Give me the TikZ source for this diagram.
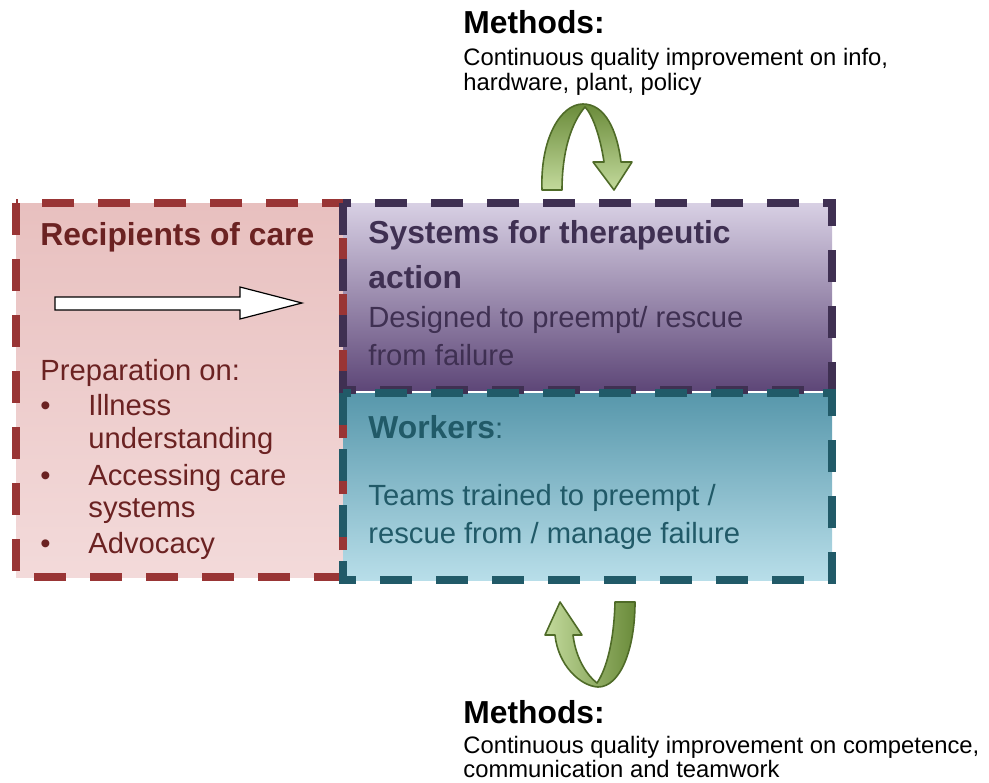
\documentclass[tikz,border=0pt]{standalone}
\usepackage{fontspec}
\setmainfont{Liberation Sans}
\usetikzlibrary{positioning}
\definecolor{recipdark}{HTML}{6B2222}
\definecolor{recipline}{HTML}{993535}
\definecolor{reciptop}{HTML}{E8C0BF}
\definecolor{recipbot}{HTML}{F3DADA}
\definecolor{sysdark}{HTML}{3F3052}
\definecolor{systop}{HTML}{D8D0E4}
\definecolor{sysbot}{HTML}{5E4778}
\definecolor{workdark}{HTML}{215A68}
\definecolor{worktop}{HTML}{5797AB}
\definecolor{workbot}{HTML}{B8DEE9}
\definecolor{loopline}{HTML}{4F6B28}
\definecolor{loopdark}{HTML}{6A8B3A}
\definecolor{looplight}{HTML}{C3DA9C}
\newcommand{\headfont}{\fontsize{15.9}{22.5}\selectfont\bfseries}
\newcommand{\bodyfont}{\fontsize{14.6}{19}\selectfont}
\newcommand{\notefont}{\fontsize{11.9}{13}\selectfont}
\tikzset{
  area/.style={rectangle, line width=3.8pt, dash pattern=on 16pt off 12pt,
               inner sep=0pt, outer sep=0pt, anchor=north west},
  txt/.style={anchor=base west, inner sep=0pt},
  loop/.style={draw=loopline, line width=0.8pt, line join=round}
}

\begin{document}
\begin{tikzpicture}[x=0.5pt, y=-0.5pt]
	\useasboundingbox (0,0) rectangle (989,782);
	% boxes
	\node[area, top color=reciptop, bottom color=recipbot,
	      minimum width=163.5pt, minimum height=187pt] (recip) at (16,203) {};
	\node[area, top color=systop, bottom color=sysbot,
	      minimum width=244.5pt, minimum height=93.5pt] (sys) at (343,203) {};
	\node[area, top color=worktop, bottom color=workbot,
	      minimum width=244.5pt, minimum height=93.5pt] (work) at (343,393) {};
	\draw[area, draw=recipline] (recip.north west) rectangle (recip.south east);
	\draw[area, draw=sysdark] (sys.north west) rectangle (sys.south east);
	\draw[area, draw=workdark] (work.north west) rectangle (work.south east);

	% recipients
	\node[txt, text=recipdark, font=\headfont] (reciphead) at (40,245) {Recipients of care};
	\draw[fill=white, line width=0.6pt] (55,297) -- (240,297) -- (240,287) -- (302,303)
	    -- (240,319) -- (240,310) -- (55,310) -- cycle;
	\begin{scope}[every node/.style={txt, text=recipdark, font=\bodyfont}]
	\node (prep) at (40,380) {Preparation on:};
	\node (b1) at (40,415) {•};
	\node (ill) at (88,415) {Illness};
	\node (und) at (88,448) {understanding};
	\node (b2) at (40,485) {•};
	\node (acc) at (88,485) {Accessing care};
	\node (syst) at (88,517) {systems};
	\node (b3) at (40,553) {•};
	\node (adv) at (88,553) {Advocacy};
	\end{scope}

	% systems
	\node[txt, text=sysdark, font=\headfont] (syshead) at (368,243) {Systems for therapeutic};
	\node[txt, text=sysdark, font=\headfont] (syshead2) at (368,288) {action};
	\node[txt, text=sysdark, font=\bodyfont] (sysbody) at (368,327) {Designed to preempt/ rescue};
	\node[txt, text=sysdark, font=\bodyfont] (sysbody2) at (368,365) {from failure};

	% workers
	\node[txt, text=workdark, font=\bodyfont] (workhead) at (368,438) {{\headfont Workers}:};
	\node[txt, text=workdark, font=\bodyfont] (workbody) at (368,505) {Teams trained to preempt /};
	\node[txt, text=workdark, font=\bodyfont] (workbody2) at (368,543) {rescue from / manage failure};

	% methods
	\node[txt, font=\headfont] (methtop) at (463,33) {Methods:};
	\node[txt, font=\notefont] (methtop1) at (463,65) {Continuous quality improvement on info,};
	\node[txt, font=\notefont] (methtop2) at (463,90) {hardware, plant, policy};
	\node[txt, font=\headfont] (methbot) at (463,723) {Methods:};
	\node[txt, font=\notefont] (methbot1) at (463,753) {Continuous quality improvement on competence,};
	\node[txt, font=\notefont] (methbot2) at (463,777) {communication and teamwork};

	% loops
	\draw[loop, top color=loopdark, bottom color=looplight]
	    (542,190) .. controls (540,140) and (560,104) .. (583,104)
	    .. controls (605,104) and (617,130) .. (621,162) -- (632,162) -- (614,190)
	    -- (593,162) -- (604,162) .. controls (600,135) and (592,114) .. (585,107)
	    .. controls (572,122) and (562,150) .. (562,190) -- cycle;
	\draw[loop, left color=looplight, right color=loopdark]
	    (635,602) .. controls (635,650) and (620,687) .. (598,687)
	    .. controls (580,686) and (558,665) .. (555,635) -- (545,635) -- (560,602)
	    -- (582,635) -- (573,635) .. controls (576,660) and (588,676) .. (597,683)
	    .. controls (607,668) and (614,640) .. (615,602) -- cycle;
\end{tikzpicture}
\end{document}
